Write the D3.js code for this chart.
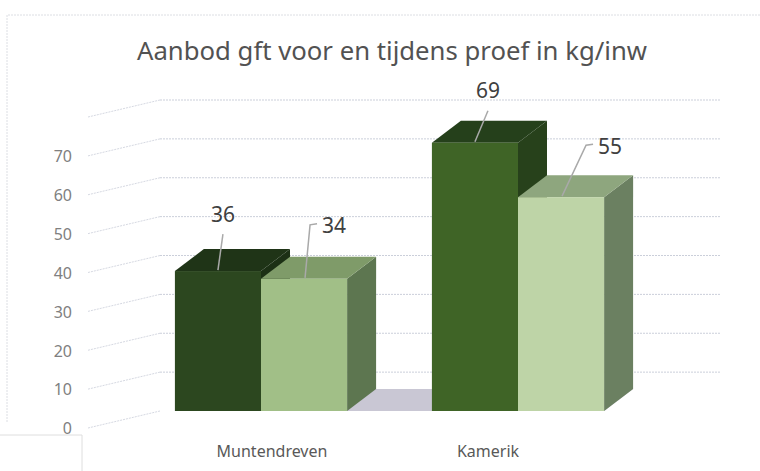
<!DOCTYPE html>
<html>
<head>
<meta charset="utf-8">
<script src="https://cdn.jsdelivr.net/npm/d3@7"></script>
<style>
    body { margin: 0; background: #fff; }
    text { font-family: "Noto Sans", "Open Sans", sans-serif; }
</style>
</head>
<body>
<div id="chart"></div>
<script>

// data
const categories = ["Muntendreven", "Kamerik"];
const seriesNames = ["voor", "tijdens"];
const valuesVoor = [36, 69];
const valuesTijdens = [34, 55];
const tickValues = [0, 10, 20, 30, 40, 50, 60, 70];
const gridValues = [10, 20, 30, 40, 50, 60, 70, 80];
const chartTitle = "Aanbod gft voor en tijdens proef in kg/inw";

// face colours per category, per series: [front, top, side]
const faceColors = [
    [["#2c471f", "#1f3417", "#1c3015"], ["#a1bf87", "#7f9b69", "#5d7650"]],
    [["#3f6426", "#25401b", "#27411b"], ["#bed4a7", "#8ea67e", "#6b8061"]]
];

// label offsets from the bar top centre: [labelDx, labelDy, leader style]
const labelPlacement = [
    [[5, -55, "straight"], [30, -51, "elbow"]],
    [[13, -50, "straight"], [49, -49, "elbow"]]
];

class Bar3DVis {

    constructor(parentElement) {
        this.parentElement = parentElement;
        this.initVis();
    }

    initVis() {
        let vis = this;

        vis.width = 760;
        vis.height = 471;
        vis.depth = {dx: 29, dy: -22};
        vis.wall = {front: 88, back: 160, right: 720, drop: 17};

        vis.svg = d3.select("#" + vis.parentElement).append("svg")
            .attr("width", vis.width)
            .attr("height", vis.height);

        vis.svg.append("rect")
            .attr("width", vis.width).attr("height", vis.height)
            .attr("fill", "#fff");

        // chart frame (scan border)
        vis.svg.append("path")
            .attr("d", "M7,422 L7,15 L760,15")
            .attr("fill", "none")
            .attr("stroke", "#dcdee3")
            .attr("stroke-dasharray", "2,1");
        vis.svg.append("path")
            .attr("d", "M0,435 L82,435 L82,471")
            .attr("fill", "none")
            .attr("stroke", "#dedede");

        // title
        vis.svg.append("text")
            .attr("x", 137).attr("y", 60)
            .attr("textLength", 510)
            .attr("lengthAdjust", "spacingAndGlyphs")
            .style("font-size", "25px")
            .style("fill", "#525252")
            .text(chartTitle);

        // scales
        vis.y = d3.scaleLinear()
            .domain([0, 80])
            .range([411, 100]);

        vis.x0 = d3.scaleBand()
            .domain(categories)
            .range([132.5, 646.5])
            .paddingInner(0.33)
            .paddingOuter(0.165);

        vis.x1 = d3.scaleBand()
            .domain(seriesNames)
            .range([0, vis.x0.bandwidth()]);

        // labels on the front floor edge, shifted by perspective
        vis.xLabel = d3.scaleBand()
            .domain(categories)
            .range([164, 596]);

        vis.wrangleData();
    }

    wrangleData() {
        let vis = this;

        vis.displayData = categories.map((c, i) => ({
            category: c,
            ci: i,
            bars: [valuesVoor[i], valuesTijdens[i]].map((v, si) => ({
                series: seriesNames[si], si: si, value: v
            }))
        }));

        vis.updateVis();
    }

    updateVis() {
        let vis = this;
        let w = vis.wall, d = vis.depth;

        // back wall gridlines
        vis.svg.append("g").selectAll(".grid")
            .data(gridValues)
            .enter().append("line")
            .attr("class", "grid")
            .attr("x1", w.back).attr("x2", w.right)
            .attr("y1", v => vis.y(v)).attr("y2", v => vis.y(v))
            .attr("stroke", "#cbcfda")
            .attr("stroke-width", 1)
            .attr("stroke-dasharray", "2,1");

        // side wall diagonals
        vis.svg.append("g").selectAll(".side-grid")
            .data([0].concat(gridValues))
            .enter().append("line")
            .attr("class", "side-grid")
            .attr("x1", w.front).attr("x2", w.back)
            .attr("y1", v => vis.y(v) + w.drop).attr("y2", v => vis.y(v))
            .attr("stroke", "#d6d9e2")
            .attr("stroke-width", 1)
            .attr("stroke-dasharray", "2,1");

        // y tick labels
        vis.svg.append("g").selectAll(".tick-label")
            .data(tickValues)
            .enter().append("text")
            .attr("class", "tick-label")
            .attr("x", 72)
            .attr("y", v => vis.y(v) + w.drop + 2)
            .attr("text-anchor", "end")
            .attr("dominant-baseline", "middle")
            .style("font-size", "16px")
            .style("fill", "#808080")
            .text(v => v);

        // floor
        let fx0 = vis.x0(categories[0]);
        let fx1 = vis.x0(categories[categories.length - 1]) + vis.x0.bandwidth();
        let fy = vis.y(0);
        vis.svg.append("path")
            .attr("d", `M${fx0},${fy} L${fx0 + d.dx},${fy + d.dy} L${fx1 + d.dx},${fy + d.dy} L${fx1},${fy} Z`)
            .attr("fill", "#c9c7d4");

        // bars
        let groups = vis.svg.selectAll(".group")
            .data(vis.displayData)
            .enter().append("g")
            .attr("class", "group");

        groups.each(function (g) {
            let sel = d3.select(this);
            g.bars.forEach(b => {
                let x0 = vis.x0(g.category) + vis.x1(b.series);
                let x1 = x0 + vis.x1.bandwidth();
                let yt = vis.y(b.value);
                let yb = vis.y(0);
                let col = faceColors[g.ci][b.si];

                sel.append("path")
                    .attr("d", `M${x1},${yt} L${x1 + d.dx},${yt + d.dy} L${x1 + d.dx},${yb + d.dy} L${x1},${yb} Z`)
                    .attr("fill", col[2]);
                sel.append("path")
                    .attr("d", `M${x0},${yt} L${x0 + d.dx},${yt + d.dy} L${x1 + d.dx},${yt + d.dy} L${x1},${yt} Z`)
                    .attr("fill", col[1]);
                sel.append("rect")
                    .attr("x", x0).attr("y", yt)
                    .attr("width", x1 - x0).attr("height", yb - yt)
                    .attr("fill", col[0]);
            });
        });

        // data labels with leader lines
        vis.displayData.forEach(g => {
            g.bars.forEach(b => {
                let cx = vis.x0(g.category) + vis.x1(b.series) + vis.x1.bandwidth() / 2;
                let yt = vis.y(b.value);
                let p = labelPlacement[g.ci][b.si];
                let lx = cx + p[0], ly = yt + p[1];
                let path;
                if (p[2] === "straight") {
                    path = `M${cx},${yt - 1} L${lx},${ly + 18}`;
                } else {
                    let ex = lx - 17;
                    path = `M${cx + 1},${yt - 1} L${ex - 7},${ly - 3} L${ex},${ly - 4}`;
                }
                vis.svg.append("path")
                    .attr("d", path)
                    .attr("fill", "none")
                    .attr("stroke", "#a9a9a9")
                    .attr("stroke-width", 1.5);
                vis.svg.append("text")
                    .attr("x", lx).attr("y", ly)
                    .attr("text-anchor", "middle")
                    .attr("dominant-baseline", "middle")
                    .style("font-size", "21px")
                    .style("fill", "#404040")
                    .text(b.value);
            });
        });

        // category labels
        vis.svg.append("g").selectAll(".cat-label")
            .data(categories)
            .enter().append("text")
            .attr("class", "cat-label")
            .attr("x", c => vis.xLabel(c) + vis.xLabel.bandwidth() / 2)
            .attr("y", 453)
            .attr("text-anchor", "middle")
            .attr("dominant-baseline", "middle")
            .style("font-size", "16px")
            .style("fill", "#595959")
            .text(c => c);
    }
}

new Bar3DVis("chart");
</script>
</body>
</html>
